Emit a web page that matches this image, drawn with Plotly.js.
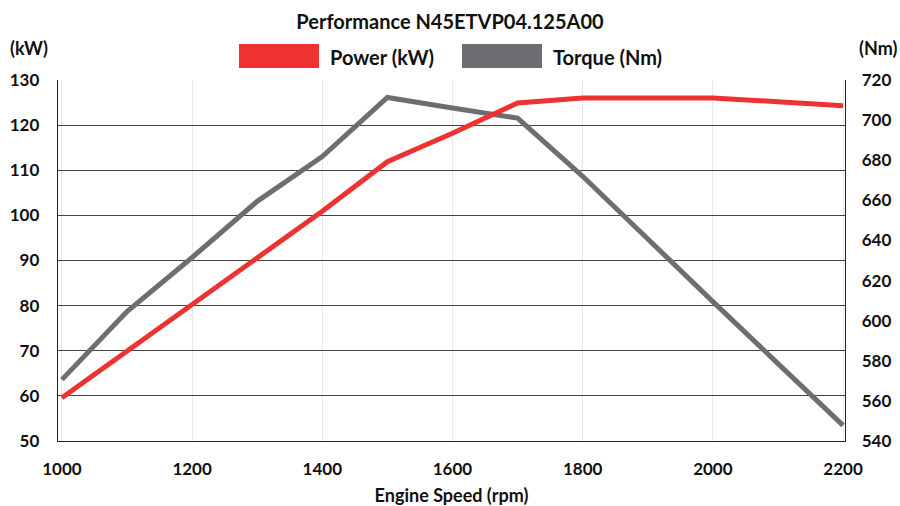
<!DOCTYPE html>
<html>
<head>
<meta charset="utf-8">
<script src="https://cdn.plot.ly/plotly-3.0.1.min.js"></script>
<style>html,body{margin:0;padding:0;background:#fff;}#chart{width:900px;height:506px;}</style>
</head>
<body>
<div id="chart"></div>
<script>
// Data
const speedPower = [1000, 1100, 1200, 1300, 1400, 1500, 1600, 1700, 1800, 1900, 2000, 2100, 2200];
const powerKW    = [59.6, 69.9, 80.4, 90.6, 100.9, 111.9, 118.2, 124.9, 126.0, 126.0, 126.0, 125.2, 124.3];

const speedTorque = [1000, 1100, 1200, 1300, 1400, 1500, 1600, 1700, 1800, 1900, 2000, 2100, 2200];
const torqueNm    = [570.6, 604.5, 631.5, 659.5, 681.8, 711.3, 706, 701, 672, 640.5, 609.5, 578.6, 547.8];

const titleText = 'Performance N45ETVP04.125A00';
const seriesNames = ['Power (kW)', 'Torque (Nm)'];
const xTicks = [1000, 1200, 1400, 1600, 1800, 2000, 2200];
const powerTicks = [50, 60, 70, 80, 90, 100, 110, 120, 130];
const torqueTicks = [540, 560, 580, 600, 620, 640, 660, 680, 700, 720];

const RED = '#EE3131';
const GREY = '#6D6E71';
const FONT = 'Lato, "DejaVu Sans", sans-serif';
const tickFont = {family: FONT, size: 17, color: '#111', weight: 'bold'};

const traces = [
  {x: speedTorque, y: torqueNm, name: seriesNames[1], type: 'scatter', mode: 'lines',
   line: {color: GREY, width: 5}, yaxis: 'y', hoverinfo: 'x+y'},
  {x: speedPower, y: powerKW, name: seriesNames[0], type: 'scatter', mode: 'lines',
   line: {color: RED, width: 5}, yaxis: 'y2', hoverinfo: 'x+y'}
];

// plot area in pixels: x 58..845, y 80..441.5
const L = 58, R = 845, T = 80, B = 441.5;
const W = R - L, H = B - T;
const px = v => (v - L) / W;
const py = v => 1 + (T - v) / H;

const layout = {
  width: 900, height: 506,
  margin: {l: L, r: 900 - R, t: T, b: 506 - B},
  paper_bgcolor: '#fff', plot_bgcolor: '#fff',
  showlegend: false,
  title: {text: titleText, x: 0.5, xref: 'container', xanchor: 'center',
          y: 1 - 22 / 506, yref: 'container', yanchor: 'middle',
          font: {family: FONT, size: 20, color: '#111', weight: 'bold'}},
  xaxis: {range: [994, 2203], tickvals: xTicks, ticktext: xTicks.map(String),
          showgrid: true, gridcolor: '#e8e8e8', gridwidth: 1,
          showline: true, linecolor: '#222', linewidth: 1.3, mirror: false,
          zeroline: false, ticks: '', ticklabelstandoff: 12, tickfont: tickFont,
          title: {text: 'Engine Speed (rpm)', standoff: 14,
                  font: {family: FONT, size: 18, color: '#111', weight: 'bold'}}},
  yaxis: {range: [540, 720], tickvals: torqueTicks, side: 'right',
          showgrid: false,
          showline: true, linecolor: '#222', linewidth: 1.3,
          zeroline: false, ticks: '', ticklabelstandoff: 12, tickfont: tickFont},
  yaxis2: {range: [50, 130], tickvals: powerTicks, side: 'left', overlaying: 'y',
           showgrid: true, gridcolor: '#444', gridwidth: 1,
           showline: true, linecolor: '#222', linewidth: 1.3,
           zeroline: false, ticks: '', ticklabelstandoff: 14, tickfont: tickFont},
  shapes: [
    {type: 'rect', xref: 'paper', yref: 'paper', x0: px(239), x1: px(319), y0: py(68), y1: py(44),
     fillcolor: RED, line: {width: 0}},
    {type: 'rect', xref: 'paper', yref: 'paper', x0: px(462), x1: px(542), y0: py(68), y1: py(44),
     fillcolor: GREY, line: {width: 0}}
  ],
  annotations: [
    {text: seriesNames[0], xref: 'paper', yref: 'paper', x: px(328), y: py(57), xanchor: 'left', yanchor: 'middle',
     showarrow: false, font: {family: FONT, size: 20, color: '#111', weight: 'bold'}},
    {text: seriesNames[1], xref: 'paper', yref: 'paper', x: px(551), y: py(57), xanchor: 'left', yanchor: 'middle',
     showarrow: false, font: {family: FONT, size: 20, color: '#111', weight: 'bold'}},
    {text: '(kW)', xref: 'paper', yref: 'paper', x: px(8), y: py(48), xanchor: 'left', yanchor: 'middle',
     showarrow: false, font: {family: FONT, size: 18, color: '#111', weight: 'bold'}},
    {text: '(Nm)', xref: 'paper', yref: 'paper', x: px(899), y: py(48), xanchor: 'right', yanchor: 'middle',
     showarrow: false, font: {family: FONT, size: 18, color: '#111', weight: 'bold'}}
  ]
};

Plotly.newPlot('chart', traces, layout, {displayModeBar: false, staticPlot: true});
</script>
</body>
</html>
